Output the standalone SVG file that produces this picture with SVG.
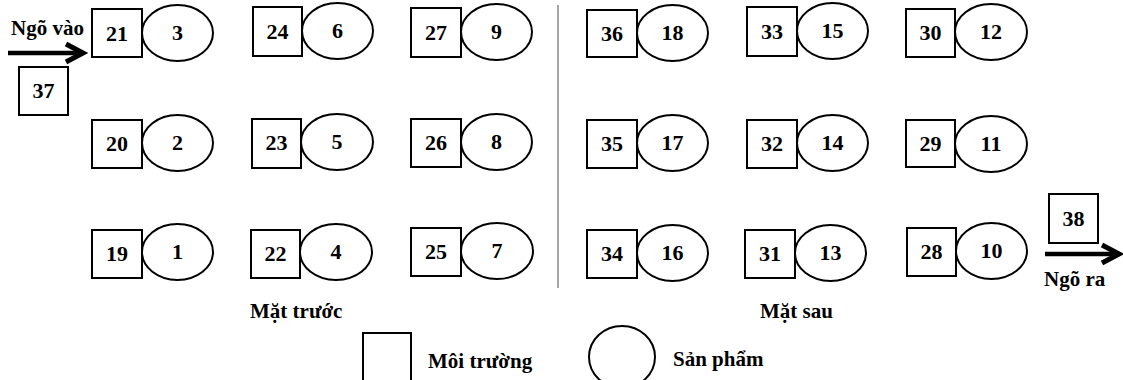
<svg xmlns="http://www.w3.org/2000/svg" width="1123" height="380" viewBox="0 0 1123 380">
<style>
.sq{fill:#fff;stroke:#000;stroke-width:2}
.el{fill:#fff;stroke:#000;stroke-width:2}
.n{font-family:"Liberation Serif","Times New Roman",serif;font-weight:bold;font-size:22px;text-anchor:middle;fill:#000}
.lb{font-family:"Liberation Serif","Times New Roman",serif;font-weight:bold;font-size:21px;fill:#000}
.ar{fill:none;stroke:#000;stroke-width:5}
</style>
<rect width="1123" height="380" fill="#fff"/>
<g id="n21"><rect class="sq" x="92" y="9" width="50" height="48"/><text class="n" x="117" y="41">21</text></g>
<g id="n3"><ellipse class="el" cx="177.5" cy="33" rx="35.5" ry="28"/><text class="n" x="177.5" y="40">3</text></g>
<g id="n20"><rect class="sq" x="92" y="120" width="50" height="48"/><text class="n" x="117" y="151">20</text></g>
<g id="n2"><ellipse class="el" cx="177.5" cy="143" rx="35.5" ry="28"/><text class="n" x="177.5" y="150">2</text></g>
<g id="n19"><rect class="sq" x="92" y="230" width="50" height="48"/><text class="n" x="117" y="261">19</text></g>
<g id="n1"><ellipse class="el" cx="177.5" cy="252" rx="35.5" ry="28"/><text class="n" x="177.5" y="259">1</text></g>

<g id="n24"><rect class="sq" x="253" y="7" width="49" height="49"/><text class="n" x="277.5" y="39">24</text></g>
<g id="n6"><ellipse class="el" cx="337.5" cy="31" rx="35.5" ry="28"/><text class="n" x="337.5" y="38">6</text></g>
<g id="n23"><rect class="sq" x="252" y="119" width="49" height="49"/><text class="n" x="276.5" y="150">23</text></g>
<g id="n5"><ellipse class="el" cx="337" cy="142" rx="36" ry="28"/><text class="n" x="337" y="149">5</text></g>
<g id="n22"><rect class="sq" x="251" y="230" width="49" height="48"/><text class="n" x="275.5" y="261">22</text></g>
<g id="n4"><ellipse class="el" cx="336" cy="252" rx="36" ry="28"/><text class="n" x="336" y="259">4</text></g>

<g id="n27"><rect class="sq" x="411" y="8" width="50" height="49"/><text class="n" x="436" y="40">27</text></g>
<g id="n9"><ellipse class="el" cx="496.5" cy="32" rx="35.5" ry="28"/><text class="n" x="496.5" y="39">9</text></g>
<g id="n26"><rect class="sq" x="411" y="119" width="50" height="48"/><text class="n" x="436" y="150">26</text></g>
<g id="n8"><ellipse class="el" cx="496.5" cy="142" rx="35.5" ry="28"/><text class="n" x="496.5" y="149">8</text></g>
<g id="n25"><rect class="sq" x="411" y="228" width="50" height="48"/><text class="n" x="436" y="259">25</text></g>
<g id="n7"><ellipse class="el" cx="497" cy="251" rx="36" ry="28"/><text class="n" x="497" y="258">7</text></g>

<g id="n36"><rect class="sq" x="587" y="10" width="50" height="47"/><text class="n" x="612" y="41">36</text></g>
<g id="n18"><ellipse class="el" cx="672.5" cy="33" rx="35.5" ry="28"/><text class="n" x="672.5" y="40">18</text></g>
<g id="n35"><rect class="sq" x="587" y="120" width="50" height="48"/><text class="n" x="612" y="151">35</text></g>
<g id="n17"><ellipse class="el" cx="672.5" cy="143" rx="35.5" ry="28"/><text class="n" x="672.5" y="150">17</text></g>
<g id="n34"><rect class="sq" x="587" y="230" width="50" height="48"/><text class="n" x="612" y="261">34</text></g>
<g id="n16"><ellipse class="el" cx="672.5" cy="253" rx="35.5" ry="28"/><text class="n" x="672.5" y="260">16</text></g>

<g id="n33"><rect class="sq" x="747" y="7" width="50" height="49"/><text class="n" x="772" y="39">33</text></g>
<g id="n15"><ellipse class="el" cx="832.5" cy="31" rx="35.5" ry="28"/><text class="n" x="832.5" y="38">15</text></g>
<g id="n32"><rect class="sq" x="747" y="120" width="50" height="48"/><text class="n" x="772" y="151">32</text></g>
<g id="n14"><ellipse class="el" cx="832.5" cy="143" rx="35.5" ry="28"/><text class="n" x="832.5" y="150">14</text></g>
<g id="n31"><rect class="sq" x="745" y="230" width="50" height="48"/><text class="n" x="770" y="261">31</text></g>
<g id="n13"><ellipse class="el" cx="830.5" cy="253" rx="35.5" ry="28"/><text class="n" x="830.5" y="260">13</text></g>

<g id="n30"><rect class="sq" x="906" y="9" width="49" height="48"/><text class="n" x="930.5" y="40">30</text></g>
<g id="n12"><ellipse class="el" cx="991" cy="32" rx="36" ry="28"/><text class="n" x="991" y="39">12</text></g>
<g id="n29"><rect class="sq" x="906" y="120" width="49" height="47"/><text class="n" x="930.5" y="151">29</text></g>
<g id="n11"><ellipse class="el" cx="991" cy="144" rx="36" ry="28"/><text class="n" x="991" y="151">11</text></g>
<g id="n28"><rect class="sq" x="907" y="228" width="49" height="48"/><text class="n" x="931.5" y="259">28</text></g>
<g id="n10"><ellipse class="el" cx="991.5" cy="251" rx="35.5" ry="28"/><text class="n" x="991.5" y="258">10</text></g>

<g id="n37"><rect class="sq" x="19" y="67" width="49" height="48"/><text class="n" x="43.5" y="98">37</text></g>
<g id="n38"><rect class="sq" x="1049" y="194" width="49" height="49"/><text class="n" x="1073.5" y="226">38</text></g>

<g id="connectors">
<line x1="8" y1="53" x2="82" y2="53" stroke="#000" stroke-width="4.5"/>
<polyline class="ar" points="66,44 83,53 66,62"/>
<line x1="1045" y1="254" x2="1117" y2="254" stroke="#000" stroke-width="4.5"/>
<polyline class="ar" points="1102,245 1119,254 1102,263"/>
<line x1="558" y1="5" x2="558" y2="288" stroke="#888" stroke-width="1.5"/>
</g>

<g id="labels">
<text class="lb" x="11" y="35">Ngõ vào</text>
<text class="lb" x="1044" y="286">Ngõ ra</text>
<text class="lb" x="250" y="318">Mặt trước</text>
<text class="lb" x="760" y="318">Mặt sau</text>
</g>

<g id="legend">
<rect class="sq" x="363" y="333" width="48" height="52"/>
<text class="lb" x="428" y="368">Môi trường</text>
<ellipse class="el" cx="622" cy="357" rx="33" ry="31"/>
<text class="lb" x="673" y="366">Sản phẩm</text>
</g>
</svg>
